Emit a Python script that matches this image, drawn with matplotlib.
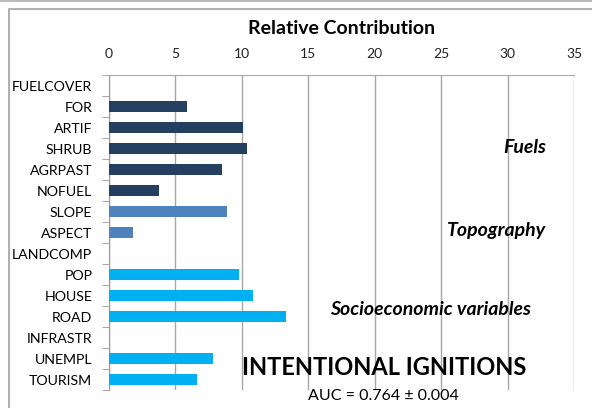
import matplotlib
matplotlib.use("Agg")
import matplotlib.pyplot as plt
from matplotlib.lines import Line2D

plt.rcParams['font.family'] = ['Lato', 'DejaVu Sans']

variables = ['FUELCOVER', 'FOR', 'ARTIF', 'SHRUB', 'AGRPAST', 'NOFUEL',
             'SLOPE', 'ASPECT', 'LANDCOMP',
             'POP', 'HOUSE', 'ROAD', 'INFRASTR', 'UNEMPL', 'TOURISM']
contribution = [0, 5.9, 10.1, 10.4, 8.5, 3.8,
                8.9, 1.8, 0,
                9.8, 10.8, 13.3, 0, 7.8, 6.6]
groups = ['fuel'] * 6 + ['topo'] * 3 + ['socio'] * 6
group_colors = {'fuel': '#243f60', 'topo': '#4f81bd', 'socio': '#00b0f0'}
xticks = [0, 5, 10, 15, 20, 25, 30, 35]

fig = plt.figure(figsize=(5.92, 4.08), dpi=100)
ax = fig.add_axes([0.184, 0.044, 0.786, 0.772])

ypos = list(range(len(variables)))
ax.barh(ypos, contribution, height=0.5,
        color=[group_colors[g] for g in groups], zorder=3)

ax.set_xlim(0, 35)
ax.set_ylim(len(variables) - 0.5, -0.5)
ax.set_xticks(xticks)
ax.xaxis.tick_top()
ax.tick_params(axis='x', length=0, labelsize=10, pad=11, colors='#222222')
ax.set_yticks(ypos)
ax.set_yticklabels(variables, fontsize=10.2)
ax.tick_params(axis='y', length=0, pad=12)
# boundary ticks between categories
ax.set_yticks([y - 0.5 for y in ypos] + [len(variables) - 0.5], minor=True)
ax.tick_params(axis='y', which='minor', length=5, color='#999999', direction='out')
ax.xaxis.grid(True, color='#a6a6a6', linewidth=1, zorder=0)
ax.set_axisbelow(True)

for side in ['right', 'bottom']:
    ax.spines[side].set_visible(False)
ax.spines['left'].set_color('#999999')
ax.spines['top'].set_color('#aaaaaa')
ax.spines['top'].set_linestyle((0, (1, 1)))
ax.spines['top'].set_linewidth(0.8)

fig.text(342 / 592, 1 - 28 / 408, 'Relative Contribution', fontsize=14,
         fontweight='bold', ha='center', va='center')

ax.text(0.94, 0.771, 'Fuels', transform=ax.transAxes, fontsize=14,
        fontweight='bold', style='italic', ha='right', va='center')
ax.text(0.94, 0.508, 'Topography', transform=ax.transAxes, fontsize=14,
        fontweight='bold', style='italic', ha='right', va='center')
ax.text(0.907, 0.257, 'Socioeconomic variables', transform=ax.transAxes,
        fontsize=14, fontweight='bold', style='italic', ha='right', va='center')
ax.text(0.591, 0.070, 'INTENTIONAL IGNITIONS', transform=ax.transAxes,
        fontsize=17, fontweight='bold', ha='center', va='center')
ax.text(0.590, -0.02, 'AUC = 0.764 \u00b1 0.004', transform=ax.transAxes,
        fontsize=11.5, ha='center', va='center')

# outer frame
fig.add_artist(Line2D([0, 1], [1 - 1 / 408, 1 - 1 / 408], transform=fig.transFigure,
                      color='#bbbbbb', linewidth=1.5))
fig.add_artist(Line2D([9 / 592, 9 / 592, 1], [0, 1 - 9 / 408, 1 - 9 / 408],
                      transform=fig.transFigure, color='#b0b0b0', linewidth=1.5))

fig.savefig('out.png', dpi=100)
